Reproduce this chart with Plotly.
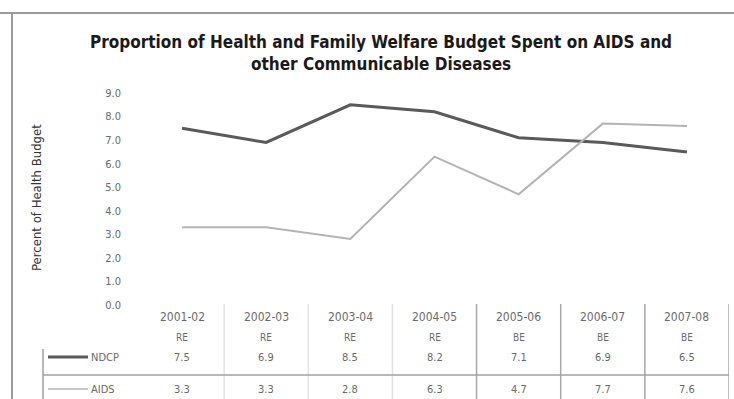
import plotly.graph_objects as go

# Financial years and estimate type (RE = revised, BE = budget)
years = ["2001-02", "2002-03", "2003-04", "2004-05", "2005-06", "2006-07", "2007-08"]
estimate = ["RE", "RE", "RE", "RE", "BE", "BE", "BE"]

# Share of the health budget (%)
ndcp = [7.5, 6.9, 8.5, 8.2, 7.1, 6.9, 6.5]
aids = [3.3, 3.3, 2.8, 6.3, 4.7, 7.7, 7.6]

y_ticks = [0, 1, 2, 3, 4, 5, 6, 7, 8, 9]

W, H = 734, 399
L, R, T, B = 140, 5, 93, 94
plot_w = W - L - R
plot_h = H - T - B

def px_x(p):
    return (p - L) / plot_w

def px_y(p):
    return (H - B - p) / plot_h

FONT = "Liberation Sans Narrow, DejaVu Sans Condensed, Arial Narrow, sans-serif"
DARK = "#5a5a5a"
LIGHT = "#b4b4b4"
TEXT = "#6a6a6a"

fig = go.Figure()
fig.add_trace(go.Scatter(x=years, y=ndcp, mode="lines", name="NDCP",
                         line=dict(color=DARK, width=3), hoverinfo="x+y"))
fig.add_trace(go.Scatter(x=years, y=aids, mode="lines", name="AIDS",
                         line=dict(color=LIGHT, width=2), hoverinfo="x+y"))

shapes = []
annotations = []

# outer chart frame (left and top edges)
shapes.append(dict(type="line", xref="paper", yref="paper",
                   x0=px_x(12), x1=px_x(12), y0=px_y(13), y1=px_y(H + 2),
                   line=dict(color="#9a9a9a", width=2)))
shapes.append(dict(type="line", xref="paper", yref="paper",
                   x0=px_x(0), x1=px_x(W + 2), y0=px_y(13), y1=px_y(13),
                   line=dict(color="#9a9a9a", width=2)))

# data table grid
for k in range(len(years)):
    shapes.append(dict(type="line", xref="x", yref="paper",
                       x0=k + 0.5, x1=k + 0.5, y0=px_y(304), y1=px_y(H + 2),
                       line=dict(color="#a8a8a8" if k >= 3 else "#e2e2e2", width=1.5)))
shapes.append(dict(type="line", xref="paper", yref="paper",
                   x0=px_x(43), x1=px_x(729), y0=px_y(375), y1=px_y(375),
                   line=dict(color="#a0a0a0", width=1.5)))
shapes.append(dict(type="line", xref="paper", yref="paper",
                   x0=px_x(43), x1=px_x(43), y0=px_y(349), y1=px_y(H + 2),
                   line=dict(color="#a0a0a0", width=1.5)))

# legend keys in the table
shapes.append(dict(type="line", xref="paper", yref="paper",
                   x0=px_x(48), x1=px_x(88), y0=px_y(357), y1=px_y(357),
                   line=dict(color=DARK, width=3)))
shapes.append(dict(type="line", xref="paper", yref="paper",
                   x0=px_x(48), x1=px_x(88), y0=px_y(389), y1=px_y(389),
                   line=dict(color=LIGHT, width=1.5)))
annotations.append(dict(xref="paper", yref="paper", x=px_x(89), y=px_y(357),
                        text="NDCP", showarrow=False, xanchor="left", yanchor="middle",
                        font=dict(family=FONT, size=11, color=TEXT)))
annotations.append(dict(xref="paper", yref="paper", x=px_x(89), y=px_y(389),
                        text="AIDS", showarrow=False, xanchor="left", yanchor="middle",
                        font=dict(family=FONT, size=11, color=TEXT)))

# table header and values
for yr, est, a, b in zip(years, estimate, ndcp, aids):
    annotations.append(dict(xref="x", yref="paper", x=yr, y=px_y(317), text=yr,
                            showarrow=False, yanchor="middle",
                            font=dict(family=FONT, size=12, color=TEXT)))
    annotations.append(dict(xref="x", yref="paper", x=yr, y=px_y(337), text=est,
                            showarrow=False, yanchor="middle",
                            font=dict(family=FONT, size=10, color=TEXT)))
    annotations.append(dict(xref="x", yref="paper", x=yr, y=px_y(357), text=f"{a:.1f}",
                            showarrow=False, yanchor="middle",
                            font=dict(family=FONT, size=11, color=TEXT)))
    annotations.append(dict(xref="x", yref="paper", x=yr, y=px_y(389), text=f"{b:.1f}",
                            showarrow=False, yanchor="middle",
                            font=dict(family=FONT, size=11, color=TEXT)))

# axis title
annotations.append(dict(xref="paper", yref="paper", x=px_x(36), y=px_y(198),
                        text="Percent of Health Budget", textangle=-90, showarrow=False,
                        xanchor="center", yanchor="middle",
                        font=dict(family=FONT, size=13, color="#333333")))

# chart title
annotations.append(dict(xref="paper", yref="paper", x=px_x(381), y=px_y(53),
                        text="<b>Proportion of Health and Family Welfare Budget Spent on AIDS and"
                             "<br>other Communicable Diseases</b>",
                        showarrow=False, xanchor="center", yanchor="middle",
                        font=dict(family="DejaVu Sans Condensed, sans-serif", size=17,
                                  color="#1a1a1a")))

fig.update_layout(
    width=W, height=H,
    margin=dict(l=L, r=R, t=T, b=B, pad=0),
    paper_bgcolor="white", plot_bgcolor="white",
    showlegend=False,
    shapes=shapes, annotations=annotations,
    xaxis=dict(type="category", categoryorder="array", categoryarray=years,
               range=[-0.5, len(years) - 0.5], showticklabels=False,
               showgrid=False, zeroline=False, showline=False, ticks=""),
    yaxis=dict(range=[0, 9], tickvals=y_ticks, tickformat=".1f",
               showgrid=False, zeroline=False, showline=False, ticks="",
               ticklabelstandoff=18,
               tickfont=dict(family=FONT, size=11, color=TEXT)),
)

fig.write_html("out.html")
